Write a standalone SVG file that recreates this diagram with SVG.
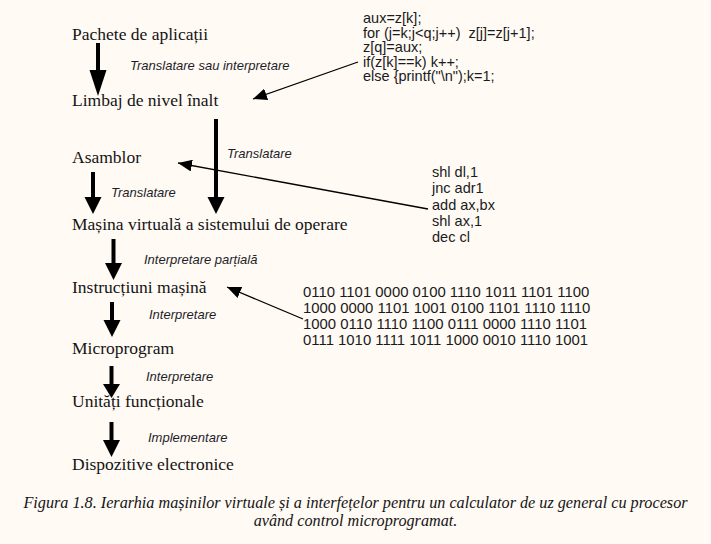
<svg xmlns="http://www.w3.org/2000/svg" width="711" height="544" viewBox="0 0 711 544">
<style>
.node{font-family:"Liberation Serif","Times New Roman",serif;font-size:17.5px;fill:#141414}
.lbl{font-family:"Liberation Sans",Arial,sans-serif;font-size:13px;font-style:italic;fill:#1e1e2a}
.code{font-family:"Liberation Sans",Arial,sans-serif;font-size:14.5px;fill:#1a1a22}
.bin{font-size:14.9px}
.cap{font-family:"Liberation Serif","Times New Roman",serif;font-size:16.2px;font-style:italic;fill:#141414}
.shaft{stroke:#000;stroke-width:4;fill:none}
.head{fill:#000}
.thin{stroke:#000;stroke-width:1.3;fill:none;marker-end:url(#ah)}
</style>
<defs>
<marker id="ah" markerUnits="userSpaceOnUse" markerWidth="16" markerHeight="12" refX="14" refY="6" orient="auto">
<path d="M0,0 L14,6 L0,12 Z" fill="#000"/>
</marker>
</defs>
<rect width="711" height="544" fill="#fffaf4"/>

<g id="n-pachete"><text class="node" x="72" y="40">Pachete de aplicații</text></g>
<g id="n-limbaj"><text class="node" x="72" y="106">Limbaj de nivel înalt</text></g>
<g id="n-asamblor"><text class="node" x="72" y="163">Asamblor</text></g>
<g id="n-masina"><text class="node" x="72" y="230">Mașina virtuală a sistemului de operare</text></g>
<g id="n-instructiuni"><text class="node" x="72" y="293">Instrucțiuni mașină</text></g>
<g id="n-microprogram"><text class="node" x="72" y="354">Microprogram</text></g>
<g id="n-unitati"><text class="node" x="72" y="407">Unități funcționale</text></g>
<g id="n-dispozitive"><text class="node" x="72" y="470">Dispozitive electronice</text></g>

<g id="code-c">
<text class="code" x="363" y="23">aux=z[k];</text>
<text class="code" x="363" y="37.5" xml:space="preserve">for (j=k;j&lt;q;j++)  z[j]=z[j+1];</text>
<text class="code" x="363" y="52">z[q]=aux;</text>
<text class="code" x="363" y="66.5">if(z[k]==k) k++;</text>
<text class="code" x="363" y="81">else {printf("\n");k=1;</text>
</g>
<g id="code-asm">
<text class="code" x="432" y="177">shl dl,1</text>
<text class="code" x="432" y="193">jnc adr1</text>
<text class="code" x="432" y="209.5">add ax,bx</text>
<text class="code" x="432" y="225.5">shl ax,1</text>
<text class="code" x="432" y="241.5">dec cl</text>
</g>
<g id="code-bin">
<text class="code bin" x="303" y="297">0110 1101 0000 0100 1110 1011 1101 1100</text>
<text class="code bin" x="303" y="313">1000 0000 1101 1001 0100 1101 1110 1110</text>
<text class="code bin" x="303" y="329">1000 0110 1110 1100 0111 0000 1110 1101</text>
<text class="code bin" x="303" y="345">0111 1010 1111 1011 1000 0010 1110 1001</text>
</g>

<g id="connectors">
<line class="shaft" x1="98" y1="43" x2="98" y2="72"/>
<path class="head" d="M89.5,70 L106.5,70 L98,96 Z"/>

<line class="shaft" x1="216" y1="119" x2="216" y2="199"/>
<path class="head" d="M207.5,197 L224.5,197 L216,214 Z"/>

<line class="shaft" x1="93" y1="172" x2="93" y2="199"/>
<path class="head" d="M84.5,197 L101.5,197 L93,214 Z"/>

<line class="shaft" x1="113.5" y1="239" x2="113.5" y2="265"/>
<path class="head" d="M105,263 L122,263 L113.5,280 Z"/>

<line class="shaft" x1="112" y1="302" x2="112" y2="322"/>
<path class="head" d="M103.5,320 L120.5,320 L112,337 Z"/>

<line class="shaft" x1="111.5" y1="366" x2="111.5" y2="386"/>
<path class="head" d="M103,384 L120,384 L111.5,398 Z"/>

<line class="shaft" x1="111.5" y1="422" x2="111.5" y2="442"/>
<path class="head" d="M103,440 L120,440 L111.5,457 Z"/>

<line class="thin" x1="358" y1="62" x2="253" y2="99"/>
<line class="thin" x1="428" y1="209" x2="178" y2="163"/>
<line class="thin" x1="303" y1="319" x2="227" y2="287"/>

<text class="lbl" x="130" y="69.5">Translatare sau interpretare</text>
<text class="lbl" x="227" y="157.5">Translatare</text>
<text class="lbl" x="111" y="197">Translatare</text>
<text class="lbl" x="144" y="264">Interpretare parțială</text>
<text class="lbl" x="149" y="319">Interpretare</text>
<text class="lbl" x="146" y="381">Interpretare</text>
<text class="lbl" x="148" y="442">Implementare</text>
</g>

<g id="caption">
<text class="cap" x="355.5" y="508" text-anchor="middle">Figura 1.8. Ierarhia mașinilor virtuale și a interfețelor pentru un calculator de uz general cu procesor</text>
<text class="cap" x="355.5" y="526" text-anchor="middle">având control microprogramat.</text>
</g>
</svg>
